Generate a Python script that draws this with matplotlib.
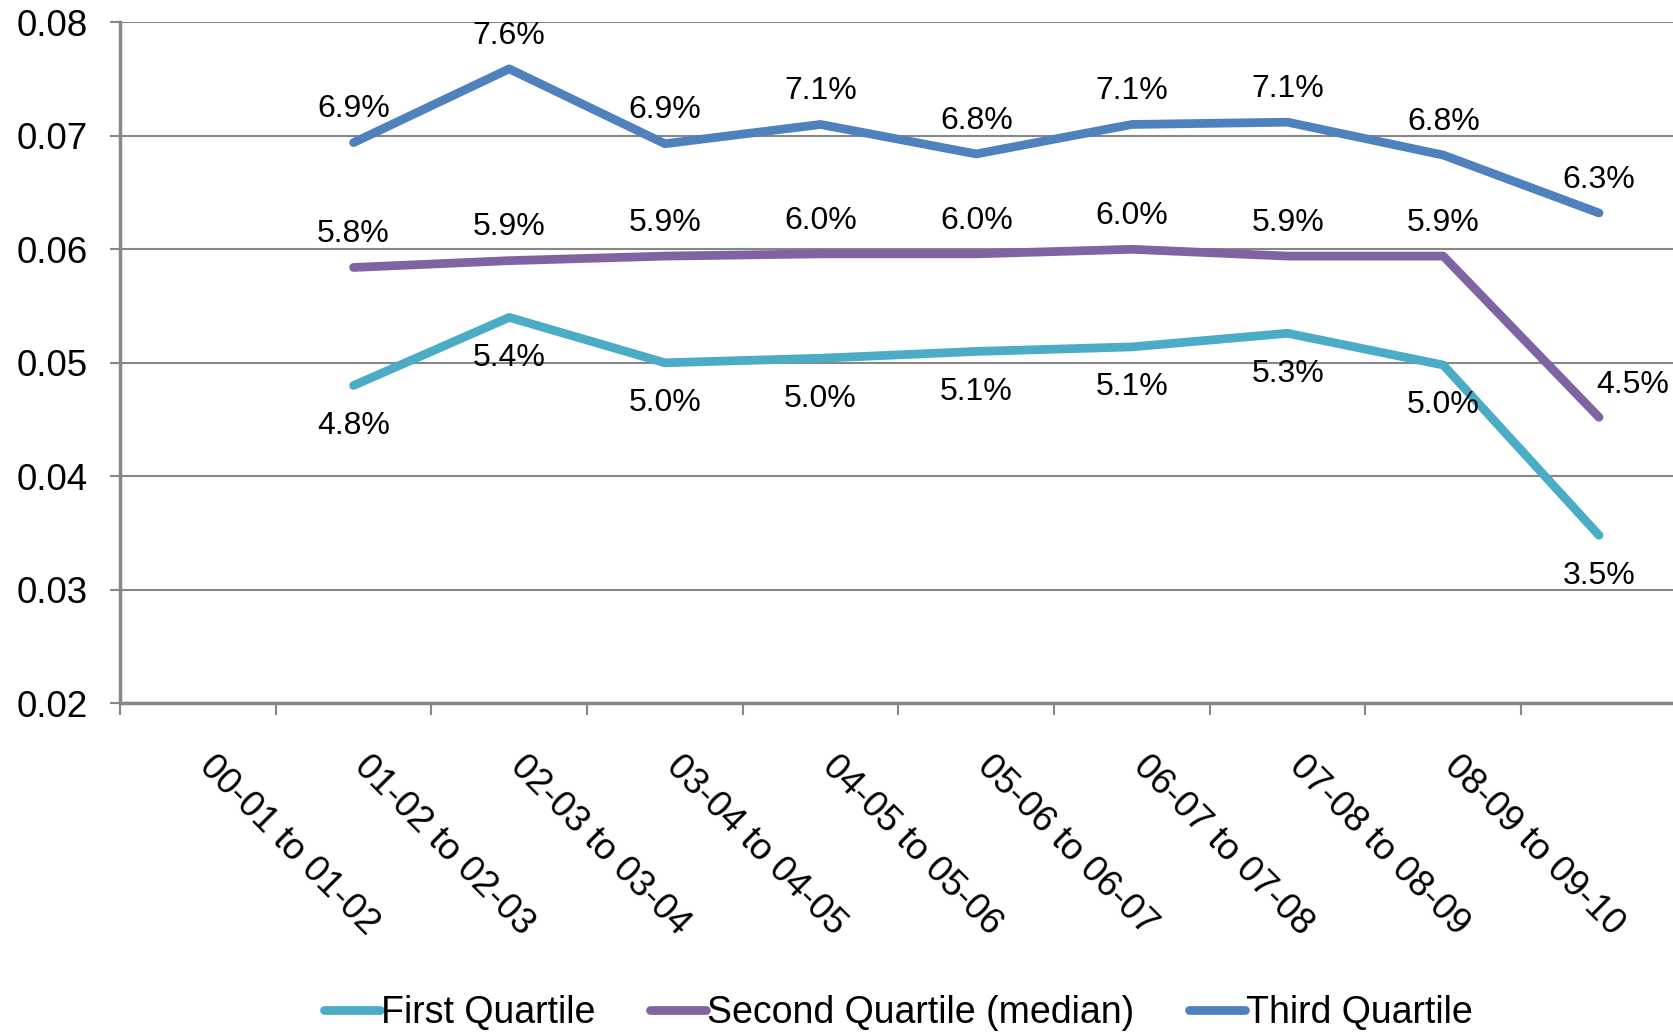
import matplotlib
matplotlib.use("Agg")
import matplotlib.pyplot as plt
import matplotlib.transforms as mtrans
import numpy as np

plt.rcParams['font.family'] = ['Liberation Sans', 'DejaVu Sans']

categories = ["00-01 to 01-02", "01-02 to 02-03", "02-03 to 03-04", "03-04 to 04-05",
              "04-05 to 05-06", "05-06 to 06-07", "06-07 to 07-08", "07-08 to 08-09",
              "08-09 to 09-10", ""]

# first category has no data in the source sheet
first_q = [np.nan, 0.0480, 0.0540, 0.0500, 0.0504, 0.0510, 0.0514, 0.0526, 0.0498, 0.0348]
second_q = [np.nan, 0.0584, 0.0590, 0.0594, 0.0596, 0.0596, 0.0600, 0.0594, 0.0594, 0.0452]
third_q = [np.nan, 0.0694, 0.0759, 0.0693, 0.0710, 0.0684, 0.0710, 0.0712, 0.0683, 0.0632]

names = ["First Quartile", "Second Quartile (median)", "Third Quartile"]
colors = ["#4BACC6", "#8064A2", "#4F81BD"]
grey = "#878787"

fig = plt.figure(figsize=(16.74, 10.33), dpi=100)
ax = fig.add_axes([0.0717, 0.3192, 0.930, 0.6592])

x = np.arange(len(categories))
series = [first_q, second_q, third_q]
for vals, name, col in zip(series, names, colors):
    ax.plot(x, vals, color=col, lw=6.3, label=name,
            solid_capstyle='round', solid_joinstyle='round')

# data labels: first quartile below, others above
for i in x:
    v = first_q[i]
    if not np.isnan(v):
        ax.annotate("%.1f%%" % (v * 100), (i, v), xytext=(0, -29), textcoords='offset points',
                    ha='center', va='center', fontsize=23)
    v = second_q[i]
    if not np.isnan(v):
        off = (0, 24) if i < 9 else (24, 23)
        ax.annotate("%.1f%%" % (v * 100), (i, v), xytext=off, textcoords='offset points',
                    ha='center', va='center', fontsize=23)
    v = third_q[i]
    if not np.isnan(v):
        ax.annotate("%.1f%%" % (v * 100), (i, v), xytext=(0, 24), textcoords='offset points',
                    ha='center', va='center', fontsize=23)

ax.set_xlim(-0.5, len(categories) - 0.5)
ax.set_ylim(0.02, 0.08)
ax.set_yticks(np.arange(0.02, 0.081, 0.01))
ax.set_yticklabels(["%.2f" % t for t in np.arange(0.02, 0.081, 0.01)], fontsize=26.5)
ax.yaxis.grid(True, color=grey, lw=1.5)
ax.set_axisbelow(True)

# tick marks sit between categories, labels go at the category centres
ax.set_xticks(np.arange(-0.5, len(categories), 1.0))
ax.set_xticklabels([])
ax.tick_params(axis='x', which='major', length=8.5, width=1.5, color=grey)
ax.tick_params(axis='y', length=7, width=1.5, color=grey, pad=16)

lab_trans = ax.get_xaxis_transform() + mtrans.ScaledTranslation(0.19, -0.46, fig.dpi_scale_trans)
for i, c in enumerate(categories):
    ax.text(i, 0, c, transform=lab_trans, rotation=-45, ha='left', va='top',
            rotation_mode='anchor', fontsize=26.5)

for s in ['top', 'right']:
    ax.spines[s].set_visible(False)
for s in ['left', 'bottom']:
    ax.spines[s].set_color(grey)
    ax.spines[s].set_linewidth(2.5)

ax.legend(loc='center', bbox_to_anchor=(0.5, -0.455), ncol=3, frameon=False, fontsize=27,
          handlelength=1.5, handletextpad=0.03, columnspacing=1.45)

fig.savefig("out.png", dpi=100)
